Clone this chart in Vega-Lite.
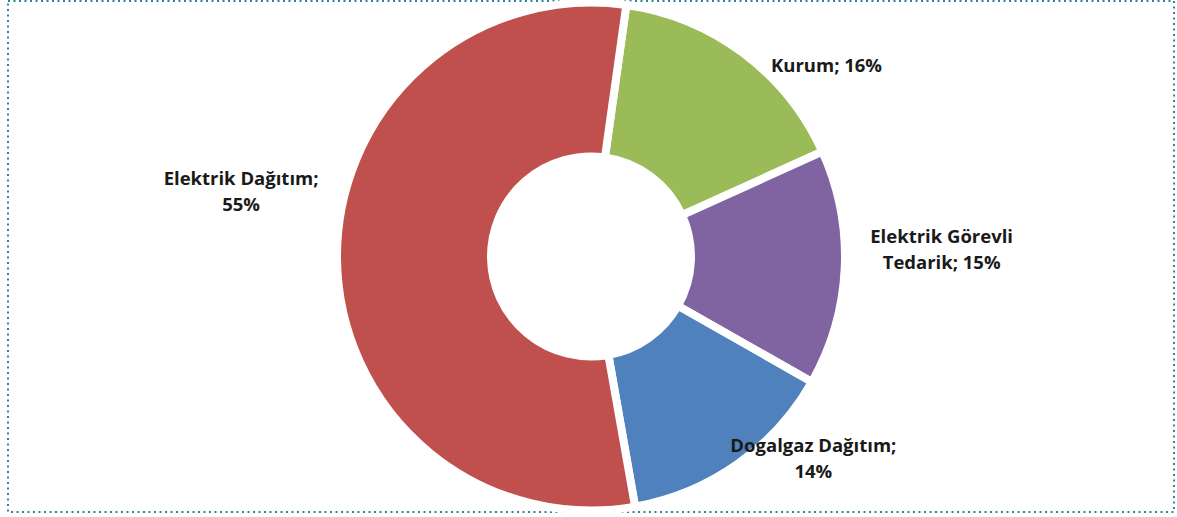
{
  "$schema": "https://vega.github.io/schema/vega-lite/v6.json",
  "autosize": {"type": "none"},
  "width": 1166,
  "height": 511,
  "padding": {"left": 8, "top": 1, "right": 3, "bottom": 5},
  "background": "white",
  "config": {
    "view": {"stroke": null},
    "text": {"font": "Open Sans", "fontWeight": "bold", "fontSize": 18.5, "color": "#1a1a1a", "lineBreak": "\n", "lineHeight": 26}
  },
  "data": {
    "values": [
      {"cat": "Kurum", "label": "Kurum; 16%", "value": 16, "order": 1},
      {"cat": "Elektrik Görevli Tedarik", "label": "Elektrik Görevli\nTedarik; 15%", "value": 15, "order": 2},
      {"cat": "Dogalgaz Dağıtım", "label": "Dogalgaz Dağıtım;\n14%", "value": 14, "order": 3},
      {"cat": "Elektrik Dağıtım", "label": "Elektrik Dağıtım;\n55%", "value": 55, "order": 4}
    ]
  },
  "layer": [
    {
      "data": {"values": [{"frame": 1}]},
      "mark": {"type": "rect", "fill": null, "stroke": "#31849B", "strokeWidth": 2, "strokeDash": [2, 3.5]},
      "encoding": {
        "x": {"value": 0}, "x2": {"value": "width"},
        "y": {"value": 0}, "y2": {"value": "height"}
      }
    },
    {
      "mark": {"type": "arc", "outerRadius": 254, "innerRadius": 100, "stroke": "white", "strokeWidth": 8},
      "encoding": {
        "theta": {"field": "value", "type": "quantitative", "stack": true, "scale": {"range": [0.1396, 6.4228]}},
        "order": {"field": "order", "type": "quantitative"},
        "color": {
          "field": "cat", "type": "nominal", "legend": null,
          "scale": {"domain": ["Kurum", "Elektrik Görevli Tedarik", "Dogalgaz Dağıtım", "Elektrik Dağıtım"],
                    "range": ["#9BBB59", "#8064A2", "#4F81BD", "#C0504D"]}
        }
      }
    },
    {
      "mark": {"type": "text", "radius": 303, "dx": 54, "dy": 52},
      "encoding": {
        "theta": {"field": "value", "type": "quantitative", "stack": true, "scale": {"range": [0.1396, 6.4228]}},
        "order": {"field": "order", "type": "quantitative"},
        "text": {"condition": {"test": "datum.cat === 'Kurum'", "field": "label"}, "value": ""}
      }
    },
    {
      "mark": {"type": "text", "radius": 357, "dx": -6, "dy": -36},
      "encoding": {
        "theta": {"field": "value", "type": "quantitative", "stack": true, "scale": {"range": [0.1396, 6.4228]}},
        "order": {"field": "order", "type": "quantitative"},
        "text": {"condition": {"test": "datum.cat === 'Elektrik Görevli Tedarik'", "field": "label"}, "value": ""}
      }
    },
    {
      "mark": {"type": "text", "radius": 299, "dx": 50, "dy": -55},
      "encoding": {
        "theta": {"field": "value", "type": "quantitative", "stack": true, "scale": {"range": [0.1396, 6.4228]}},
        "order": {"field": "order", "type": "quantitative"},
        "text": {"condition": {"test": "datum.cat === 'Dogalgaz Dağıtım'", "field": "label"}, "value": ""}
      }
    },
    {
      "mark": {"type": "text", "radius": 356, "dx": 6, "dy": -84},
      "encoding": {
        "theta": {"field": "value", "type": "quantitative", "stack": true, "scale": {"range": [0.1396, 6.4228]}},
        "order": {"field": "order", "type": "quantitative"},
        "text": {"condition": {"test": "datum.cat === 'Elektrik Dağıtım'", "field": "label"}, "value": ""}
      }
    }
  ]
}
